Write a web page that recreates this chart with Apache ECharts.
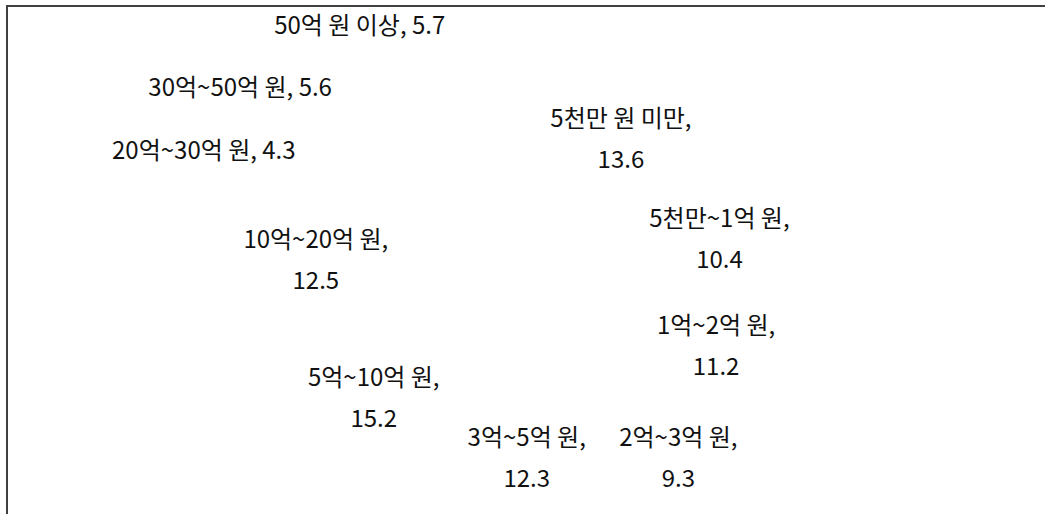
<!DOCTYPE html>
<html><head><meta charset="utf-8">
<script src="https://cdn.jsdelivr.net/npm/echarts@6/dist/echarts.min.js"></script>
<style>html,body{margin:0;padding:0;background:#fff}#c{width:1045px;height:514px}</style>
</head><body><div id="c"></div>
<script>
const categories = ['5천만 원 미만','5천만~1억 원','1억~2억 원','2억~3억 원','3억~5억 원','5억~10억 원','10억~20억 원','20억~30억 원','30억~50억 원','50억 원 이상'];
const shares = [13.6, 10.4, 11.2, 9.3, 12.3, 15.2, 12.5, 4.3, 5.6, 5.7];
const outsideLabel = [false, false, false, false, false, false, false, true, true, true];
const labelNudge = [[10,21],[10,19],[0,-3],[32,9],[3,-29],[-6,-16],[-26,4],[-36,16],[-57,0],[-23,-32]];

const FONT = '"Noto Sans CJK KR", "Noto Sans", sans-serif';
const chart = echarts.init(document.getElementById('c'), null, {renderer: 'svg'});
const data = categories.map((name, i) => {
  const item = {name: name, value: shares[i]};
  if (outsideLabel[i]) {
    item.label = {position: 'outside', formatter: '{b}, {c}', lineHeight: 26};
  }
  return item;
});
chart.setOption({
  animation: false,
  backgroundColor: '#ffffff',
  graphic: [{
    type: 'rect', silent: true,
    shape: {x: 7, y: 6, width: 1100, height: 600},
    style: {fill: 'none', stroke: '#404040', lineWidth: 2}
  }],
  series: [{
    type: 'pie',
    center: [531, 292],
    radius: [150, 230],
    startAngle: 90,
    clockwise: true,
    avoidLabelOverlap: false,
    silent: true,
    itemStyle: {color: 'rgba(255,255,255,0)', borderWidth: 0},
    emphasis: {disabled: true},
    labelLine: {show: false, length: 10, length2: 15},
    label: {
      show: true,
      position: 'inside',
      formatter: '{b},\n{c}',
      fontFamily: FONT,
      fontSize: 24,
      lineHeight: 41,
      color: '#111111'
    },
    labelLayout: function (p) {
      const n = labelNudge[p.dataIndex];
      return {dx: n[0], dy: n[1]};
    },
    data: data
  }]
});
</script>
</body></html>
